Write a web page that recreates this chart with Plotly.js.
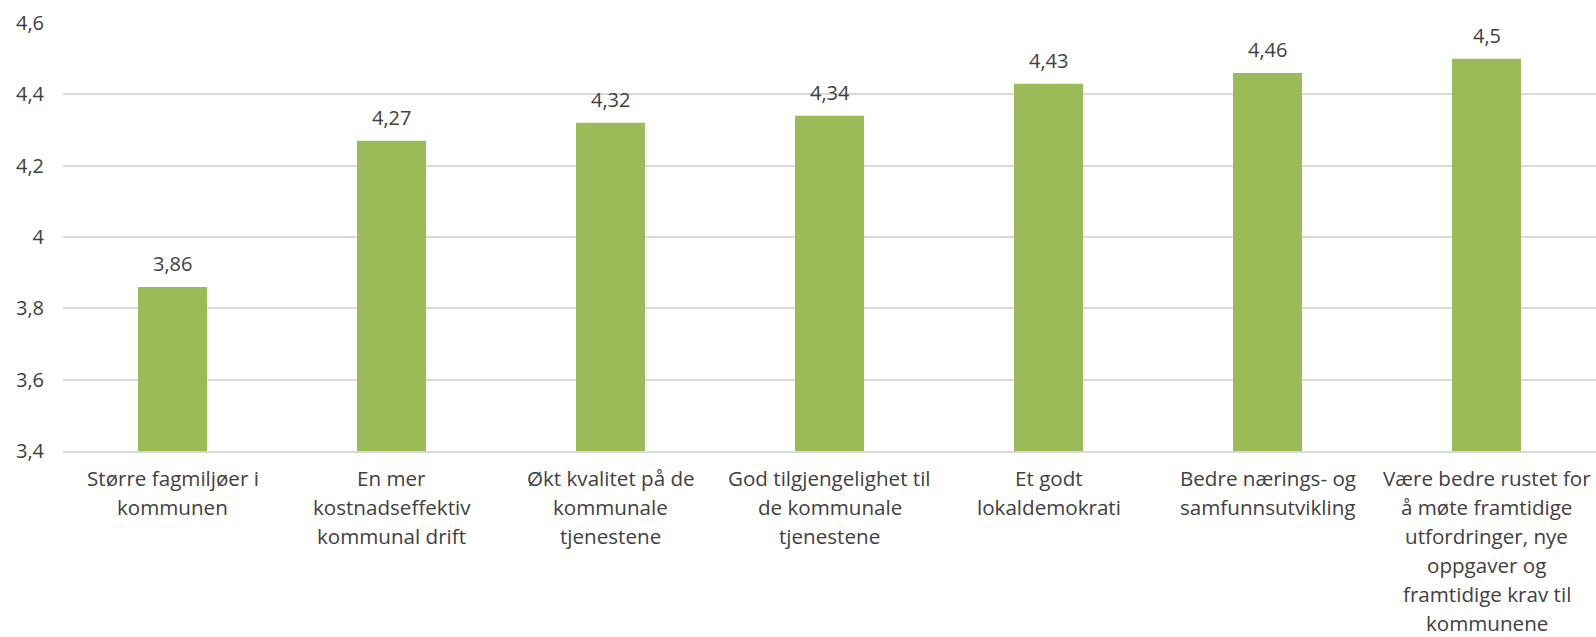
<!DOCTYPE html>
<html>
<head>
<meta charset="utf-8">
<script src="https://cdn.plot.ly/plotly-3.0.1.min.js"></script>
<style>html,body{margin:0;padding:0;background:#fff;}#chart{width:1596px;height:637px;}</style>
</head>
<body>
<div id="chart"></div>
<script>
const categories = [
  "Større fagmiljøer i<br>kommunen",
  "En mer<br>kostnadseffektiv<br>kommunal drift",
  "Økt kvalitet på de<br>kommunale<br>tjenestene",
  "God tilgjengelighet til<br>de kommunale<br>tjenestene",
  "Et godt<br>lokaldemokrati",
  "Bedre nærings- og<br>samfunnsutvikling",
  "Være bedre rustet for<br>å møte framtidige<br>utfordringer, nye<br>oppgaver og<br>framtidige krav til<br>kommunene"
];
const values = [3.86, 4.27, 4.32, 4.34, 4.43, 4.46, 4.5];
const valueLabels = ["3,86", "4,27", "4,32", "4,34", "4,43", "4,46", "4,5"];
const yTickVals = [3.4, 3.6, 3.8, 4.0, 4.2, 4.4, 4.6];
const yTickText = ["3,4", "3,6", "3,8", "4", "4,2", "4,4", "4,6"];

const textColor = "#404040";
const fontFamily = "'Open Sans', 'Noto Sans', sans-serif";
const fs = 20;
const labelFont = {family: fontFamily, size: 20.6, color: textColor};

const annotations = categories.map((c, i) => ({
  x: c, y: values[i], xref: "x", yref: "y",
  text: valueLabels[i], showarrow: false,
  yanchor: "bottom", yshift: 8,
  font: {family: fontFamily, size: fs, color: textColor}
}));

// category labels, one annotation per line so the line spacing matches
categories.forEach((c) => {
  c.split("<br>").forEach((line, k) => {
    annotations.push({
      x: c, y: 0, xref: "x", yref: "paper",
      text: line, showarrow: false,
      xanchor: "center", yanchor: "middle",
      borderpad: 0,
      yshift: -(27 + k * 29),
      font: labelFont
    });
  });
});

Plotly.newPlot("chart", [{
  type: "bar",
  x: categories,
  y: values,
  marker: {color: "#9BBB59"},
  hoverinfo: "none"
}], {
  width: 1596, height: 637,
  margin: {l: 63, r: 0, t: 23, b: 186},
  paper_bgcolor: "#fff", plot_bgcolor: "#fff",
  bargap: 0.685,
  showlegend: false,
  font: {family: fontFamily, size: fs, color: textColor},
  xaxis: {
    type: "category",
    showgrid: false,
    showline: true, linecolor: "#D9D9D9", linewidth: 2,
    ticks: "", showticklabels: false
  },
  yaxis: {
    range: [3.4, 4.6],
    tickvals: yTickVals, ticktext: yTickText,
    showgrid: true, gridcolor: "#D9D9D9", gridwidth: 2,
    zeroline: false, showline: false, ticks: "",
    ticklabelstandoff: 18,
    tickfont: {family: fontFamily, size: fs, color: textColor}
  },
  annotations: annotations
}, {staticPlot: true, displayModeBar: false});
</script>
</body>
</html>
